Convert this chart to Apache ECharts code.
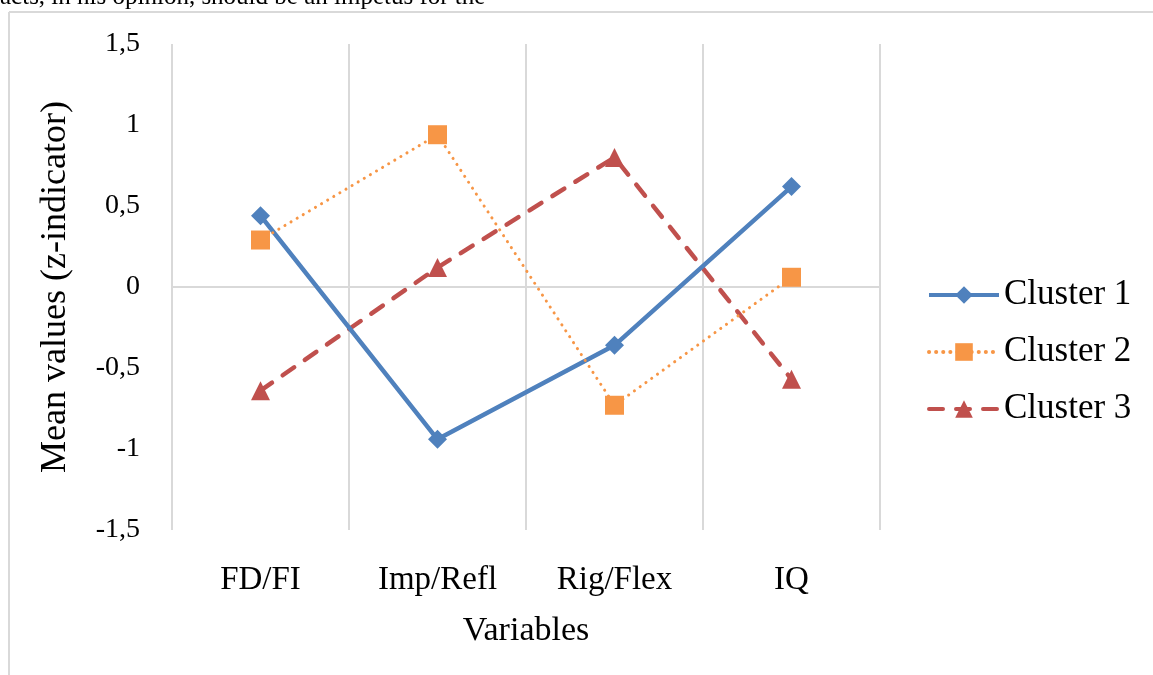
<!DOCTYPE html>
<html>
<head>
<meta charset="utf-8">
<script src="https://cdn.jsdelivr.net/npm/echarts@6/dist/echarts.min.js"></script>
<style>
html,body{margin:0;padding:0;background:#fff;}
#main{width:1153px;height:675px;}
</style>
</head>
<body>
<div id="main"></div>
<script>
const categories = ['FD/FI', 'Imp/Refl', 'Rig/Flex', 'IQ'];
const cluster1 = [0.44, -0.94, -0.36, 0.62];
const cluster2 = [0.29, 0.94, -0.73, 0.06];
const cluster3 = [-0.64, 0.12, 0.80, -0.57];
const yTicks = [-1.5, -1, -0.5, 0, 0.5, 1, 1.5];
const seriesNames = ['Cluster 1', 'Cluster 2', 'Cluster 3'];

const serif = '"Liberation Serif", "Times New Roman", serif';
const chart = echarts.init(document.getElementById('main'));
chart.setOption({
  animation: false,
  backgroundColor: '#fff',
  textStyle: { fontFamily: serif },
  graphic: [
    { type: 'text', left: 0, top: -15, style: { text: 'acts, in his opinion, should be an impetus for the', font: '25px ' + serif, fill: '#000' } },
    { type: 'line', shape: { x1: 9, y1: 12, x2: 1153, y2: 12 }, style: { stroke: '#d9d9d9', lineWidth: 2 } },
    { type: 'line', shape: { x1: 9, y1: 12, x2: 9, y2: 675 }, style: { stroke: '#d9d9d9', lineWidth: 2 } }
  ],
  grid: { left: 172, right: 273, top: 44, bottom: 145 },
  legend: {
    orient: 'vertical',
    left: 922,
    top: 271,
    itemWidth: 70,
    itemHeight: 22,
    itemGap: 19,
    lineStyle: { width: 4 },
    textStyle: { fontFamily: serif, fontSize: 35, color: '#000', lineHeight: 38 },
    data: seriesNames
  },
  xAxis: {
    type: 'category',
    data: categories,
    boundaryGap: true,
    name: 'Variables',
    nameLocation: 'middle',
    nameGap: 84,
    nameTextStyle: { fontFamily: serif, fontSize: 34, color: '#000' },
    axisLine: { show: false },
    axisTick: { show: false },
    axisLabel: { fontFamily: serif, fontSize: 33, color: '#000', margin: 34 },
    splitLine: { show: true, lineStyle: { color: '#d9d9d9', width: 2 } }
  },
  yAxis: {
    type: 'value',
    min: -1.5,
    max: 1.5,
    interval: 0.5,
    name: 'Mean values (z-indicator)',
    nameLocation: 'middle',
    nameGap: 98,
    nameTextStyle: { fontFamily: serif, fontSize: 36, color: '#000' },
    axisLine: { show: false },
    axisTick: { show: false },
    splitLine: { show: false },
    axisLabel: {
      fontFamily: serif, fontSize: 28, color: '#000', margin: 32,
      formatter: v => yTicks.includes(v) ? String(v).replace('.', ',') : ''
    }
  },
  series: [
    {
      name: seriesNames[0], type: 'line', data: cluster1,
      symbol: 'diamond', symbolSize: 19,
      lineStyle: { color: '#4f81bd', width: 4.5, type: 'solid' },
      itemStyle: { color: '#4f81bd' },
      z: 3,
      markLine: {
        silent: true, symbol: 'none', label: { show: false },
        lineStyle: { color: '#d9d9d9', width: 2, type: 'solid' },
        data: [{ yAxis: 0 }], z: 1
      }
    },
    {
      name: seriesNames[1], type: 'line', data: cluster2,
      symbol: 'rect', symbolSize: 19,
      lineStyle: { color: '#f79646', width: 3, type: [0.1, 7], cap: 'round' },
      itemStyle: { color: '#f79646' },
      z: 4
    },
    {
      name: seriesNames[2], type: 'line', data: cluster3,
      symbol: 'triangle', symbolSize: 19,
      lineStyle: { color: '#c0504d', width: 4.5, type: [14, 13], cap: 'round' },
      itemStyle: { color: '#c0504d' },
      z: 2
    }
  ]
});
</script>
</body>
</html>
